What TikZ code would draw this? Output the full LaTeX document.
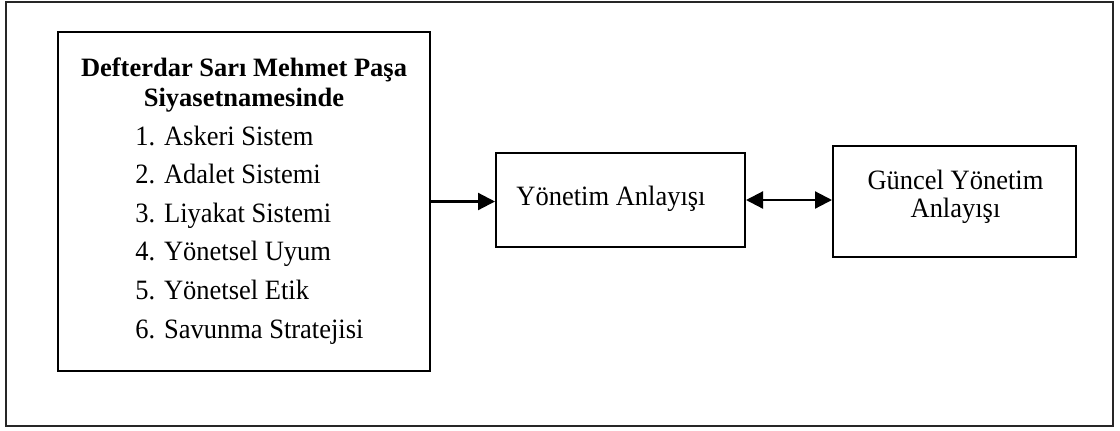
\documentclass[tikz,border=0pt]{standalone}
\usepackage{fontspec}
\setmainfont{Liberation Serif}
\newfontfamily\stretchserif{Liberation Serif}[FakeStretch=0.946]
\usetikzlibrary{arrows.meta}
\begin{document}
\begin{tikzpicture}[x=0.5pt,y=-0.5pt,
  every node/.style={font=\stretchserif\fontsize{14}{16}\selectfont},
  frame/.style={draw=black!85, line width=1pt},
  box/.style={draw, line width=1pt, rectangle, inner sep=0pt},
  txt/.style={anchor=base, inner sep=0pt},
  head/.style={anchor=base, inner sep=0pt, font=\rmfamily\bfseries\fontsize{13.25}{16}\selectfont},
  item/.style={anchor=base west, inner sep=0pt},
  arr/.style={line width=1.1pt, -{Triangle[length=8.5pt,width=8.5pt]}},
  darr/.style={line width=1.1pt, {Triangle[length=8.5pt,width=8.5pt]}-{Triangle[length=8.5pt,width=8.5pt]}}]
\useasboundingbox (0,0) rectangle (1120,430);
\draw[frame] (6,1.5) rectangle (1113,426);
% boxes
\node[box, minimum width=186pt, minimum height=169.5pt] (left) at (244,201.5) {};
\node[box, minimum width=124.5pt, minimum height=47pt] (mid) at (620.5,200) {};
\node[box, minimum width=121.5pt, minimum height=55.5pt] (right) at (954.5,201.5) {};
% left box text
\node[head] (h1) at (244,76) {Defterdar Sarı Mehmet Paşa};
\node[head] (h2) at (244,106) {Siyasetnamesinde};
\node[item] (i1) at (135,145) {1. Askeri Sistem};
\node[item] (i2) at (135,183.6) {2. Adalet Sistemi};
\node[item] (i3) at (135,222.2) {3. Liyakat Sistemi};
\node[item] (i4) at (135,260.8) {4. Yönetsel Uyum};
\node[item] (i5) at (135,299.4) {5. Yönetsel Etik};
\node[item] (i6) at (135,338) {6. Savunma Stratejisi};
% middle and right texts
\node[txt] (mt) at (611,205) {Yönetim Anlayışı};
\node[txt] (rt1) at (955.5,189) {Güncel Yönetim};
\node[txt] (rt2) at (955.5,217) {Anlayışı};
% connectors
\draw[arr] (left.east) -- (left.east -| mid.west);
\draw[darr] (mid.east) -- (mid.east -| right.west);
\end{tikzpicture}
\end{document}
